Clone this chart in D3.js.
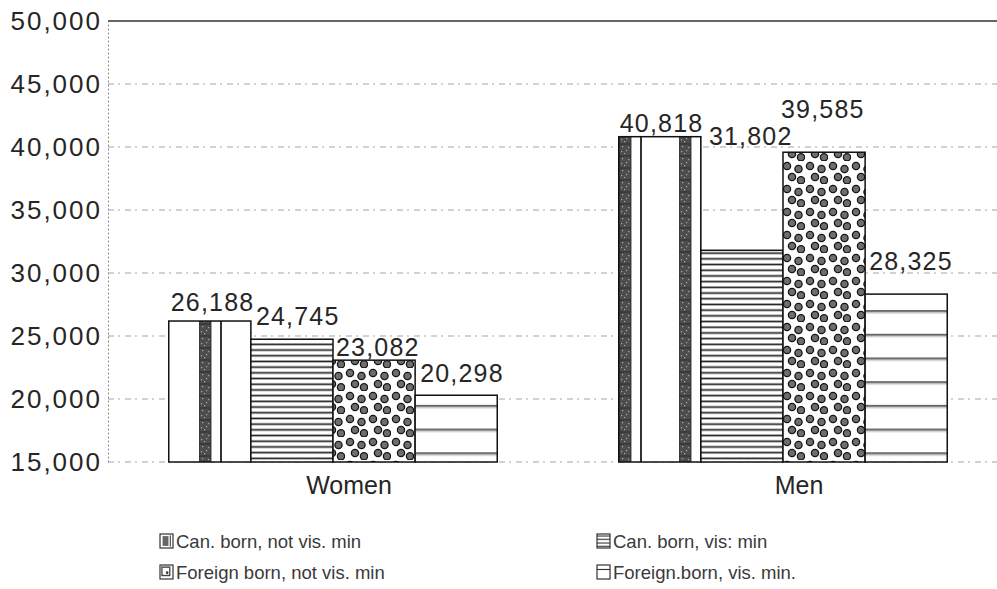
<!DOCTYPE html>
<html>
<head>
<meta charset="utf-8">
<script src="https://cdn.jsdelivr.net/npm/d3@7"></script>
<style>
  body { margin: 0; background: #fff; }
  svg text { font-family: "Liberation Sans", Arial, Helvetica, sans-serif; fill: #262626; }
</style>
</head>
<body>
<div id="chart"></div>
<script>
// Chart data
var groups = ["Women", "Men"];
var seriesNames = ["Can. born, not vis. min", "Can. born, vis. min",
                   "Foreign born, not vis. min", "Foreign born, vis. min"];
var womenValues = [26188, 24745, 23082, 20298];
var menValues = [40818, 31802, 39585, 28325];
var yTicks = [15000, 20000, 25000, 30000, 35000, 40000, 45000, 50000];
var legendLabels = ["Can. born, not vis. min", "Can. born, vis: min",
                    "Foreign born, not vis. min", "Foreign.born, vis. min."];

// label nudges (dx, lift above bar) to follow the printed layout
var labelDx = [[2, 5, 3, 5], [1, 8, -2, 4]];
var labelLift = [[10, 14, 4, 13], [5, 105, 34, 24]];

var width = 997, height = 589;
var svg = d3.select("#chart").append("svg")
    .attr("width", width)
    .attr("height", height);

var defs = svg.append("defs");

// pattern 1: vertical dark stipple stripe + thin line
var p1 = defs.append("pattern").attr("id", "p1")
    .attr("patternUnits", "userSpaceOnUse")
    .attr("x", 19).attr("y", 0).attr("width", 60).attr("height", 12);
p1.append("rect").attr("width", 60).attr("height", 12).attr("fill", "#fff");
p1.append("rect").attr("x", 0.5).attr("width", 11.5).attr("height", 12)
    .attr("fill", "#4d4d4d").attr("stroke", "#222").attr("stroke-width", 0.8);
[[3, 2], [7, 6], [5, 9], [9, 3], [2, 7]].forEach(function(s) {
    p1.append("rect").attr("x", s[0]).attr("y", s[1]).attr("width", 1.2).attr("height", 1.2)
        .attr("fill", "#aaa");
});
p1.append("rect").attr("x", 21).attr("width", 2).attr("height", 12).attr("fill", "#333");

// pattern 2: dense horizontal lines
var p2 = defs.append("pattern").attr("id", "p2")
    .attr("patternUnits", "userSpaceOnUse")
    .attr("width", 12).attr("height", 5.7);
p2.append("rect").attr("width", 12).attr("height", 5.7).attr("fill", "#fff");
p2.append("rect").attr("y", 1.5).attr("width", 12).attr("height", 1.7).attr("fill", "#222");

// pattern 3: dots
var p3 = defs.append("pattern").attr("id", "p3")
    .attr("patternUnits", "userSpaceOnUse")
    .attr("width", 23).attr("height", 23);
p3.append("rect").attr("width", 23).attr("height", 23).attr("fill", "#fff");
[[5, 5], [16.5, 8], [10, 16], [19, 19.3]].forEach(function(c) {
    p3.append("circle").attr("cx", c[0]).attr("cy", c[1]).attr("r", 3.6)
        .attr("fill", "#6e6e6e").attr("stroke", "#151515").attr("stroke-width", 1.3);
});

// pattern 4: widely spaced horizontal double lines
var p4 = defs.append("pattern").attr("id", "p4")
    .attr("patternUnits", "userSpaceOnUse")
    .attr("width", 12).attr("height", 23.7);
p4.append("rect").attr("width", 12).attr("height", 23.7).attr("fill", "#fff");
p4.append("rect").attr("y", 2.2).attr("width", 12).attr("height", 1.4).attr("fill", "#333");
p4.append("rect").attr("y", 4.4).attr("width", 12).attr("height", 0.8).attr("fill", "#999");

// small legend versions
var i1 = defs.append("pattern").attr("id", "i1")
    .attr("patternUnits", "objectBoundingBox").attr("patternContentUnits", "objectBoundingBox")
    .attr("width", 1).attr("height", 1);
i1.append("rect").attr("width", 1).attr("height", 1).attr("fill", "#fff");
i1.append("rect").attr("x", 0.2).attr("y", 0.15).attr("width", 0.45).attr("height", 0.7).attr("fill", "#666");
i1.append("rect").attr("x", 0.75).attr("y", 0.1).attr("width", 0.08).attr("height", 0.8).attr("fill", "#333");

var i2 = defs.append("pattern").attr("id", "i2")
    .attr("patternUnits", "objectBoundingBox").attr("patternContentUnits", "objectBoundingBox")
    .attr("width", 1).attr("height", 0.25);
i2.append("rect").attr("width", 1).attr("height", 0.25).attr("fill", "#fff");
i2.append("rect").attr("y", 0.1).attr("width", 1).attr("height", 0.08).attr("fill", "#333");

var i3 = defs.append("pattern").attr("id", "i3")
    .attr("patternUnits", "objectBoundingBox").attr("patternContentUnits", "objectBoundingBox")
    .attr("width", 1).attr("height", 1);
i3.append("rect").attr("width", 1).attr("height", 1).attr("fill", "#fff");
i3.append("rect").attr("x", 0.15).attr("y", 0.15).attr("width", 0.6).attr("height", 0.6)
    .attr("fill", "none").attr("stroke", "#444").attr("stroke-width", 0.1);
i3.append("circle").attr("cx", 0.55).attr("cy", 0.55).attr("r", 0.1).attr("fill", "#333");

var i4 = defs.append("pattern").attr("id", "i4")
    .attr("patternUnits", "objectBoundingBox").attr("patternContentUnits", "objectBoundingBox")
    .attr("width", 1).attr("height", 1);
i4.append("rect").attr("width", 1).attr("height", 1).attr("fill", "#fff");
i4.append("rect").attr("y", 0.28).attr("width", 1).attr("height", 0.08).attr("fill", "#333");

var fills = ["url(#p1)", "url(#p2)", "url(#p3)", "url(#p4)"];
var iconFills = ["url(#i1)", "url(#i2)", "url(#i3)", "url(#i4)"];

// Scales
var margin = {left: 108, top: 21, bottom: 462, right: 997};
var y = d3.scaleLinear().domain([15000, 50000]).range([margin.bottom, margin.top]);
var x0 = d3.scaleBand().domain(groups).range([108, 1008])
    .paddingInner(0.27).paddingOuter(0.135);
var x1 = d3.scaleBand().domain(d3.range(seriesNames.length)).range([0, x0.bandwidth()]);

// Gridlines
svg.append("g").selectAll("line")
    .data(yTicks)
    .enter().append("line")
    .attr("x1", margin.left).attr("x2", margin.right)
    .attr("y1", function(d) { return y(d); })
    .attr("y2", function(d) { return y(d); })
    .attr("stroke", function(d) { return d === 50000 ? "#333" : "#a5a5a5"; })
    .attr("stroke-width", function(d) { return d === 50000 ? 1.4 : 1; })
    .attr("stroke-dasharray", function(d) { return d === 50000 ? null : "6,4,2,5"; });

// Y axis
var yAxis = d3.axisLeft(y).tickValues(yTicks).tickFormat(d3.format(",")).tickSize(0).tickPadding(6);
var yg = svg.append("g")
    .attr("transform", "translate(" + margin.left + ",0)")
    .call(yAxis);
yg.select(".domain").attr("stroke", "#888").attr("stroke-dasharray", "2,2");
yg.selectAll("text")
    .style("font-family", "'Liberation Sans', Arial, sans-serif")
    .style("font-size", "26px")
    .style("letter-spacing", "2px")
    .attr("fill", "#2a2a2a");

// Bars (drawn in page space so the hatch patterns line up like the print)
var data = [womenValues, menValues];
var bars = svg.append("g");

groups.forEach(function(g, gi) {
    var vals = data[gi];
    bars.selectAll("rect.g" + gi)
        .data(vals)
        .enter().append("rect")
        .attr("class", "g" + gi)
        .attr("x", function(d, i) { return x0(g) + x1(i); })
        .attr("y", function(d) { return y(d); })
        .attr("width", x1.bandwidth())
        .attr("height", function(d) { return y(15000) - y(d); })
        .attr("fill", function(d, i) { return fills[i]; })
        .attr("stroke", "#111")
        .attr("stroke-width", 1.5);

    bars.selectAll("text.v" + gi)
        .data(vals)
        .enter().append("text")
        .attr("class", "v" + gi)
        .attr("x", function(d, i) { return x0(g) + x1(i) + labelDx[gi][i]; })
        .attr("y", function(d, i) { return y(d) - labelLift[gi][i]; })
        .style("font-size", "25px")
        .style("letter-spacing", "1.2px")
        .text(function(d) { return d3.format(",")(d); });
});

// Category labels
svg.append("g").selectAll("text")
    .data(groups)
    .enter().append("text")
    .attr("x", function(d) { return x0(d) + x0.bandwidth() / 2 + 16; })
    .attr("y", 494)
    .attr("text-anchor", "middle")
    .style("font-size", "25px")
    .text(function(d) { return d; });

// Legend
var legendX = [160, 597];
var legendY = [541, 572];
var legend = svg.append("g").selectAll("g")
    .data(legendLabels)
    .enter().append("g")
    .attr("transform", function(d, i) {
        return "translate(" + legendX[i % 2] + "," + legendY[Math.floor(i / 2)] + ")";
    });
legend.append("rect")
    .attr("x", 0).attr("y", -7).attr("width", 13).attr("height", 14)
    .attr("fill", function(d, i) { return iconFills[i]; })
    .attr("stroke", "#333").attr("stroke-width", 1.2);
legend.append("text")
    .attr("x", 16).attr("y", 7)
    .style("font-size", "18.5px")
    .style("fill", "#3a3a3a")
    .text(function(d) { return d; });
</script>
</body>
</html>
